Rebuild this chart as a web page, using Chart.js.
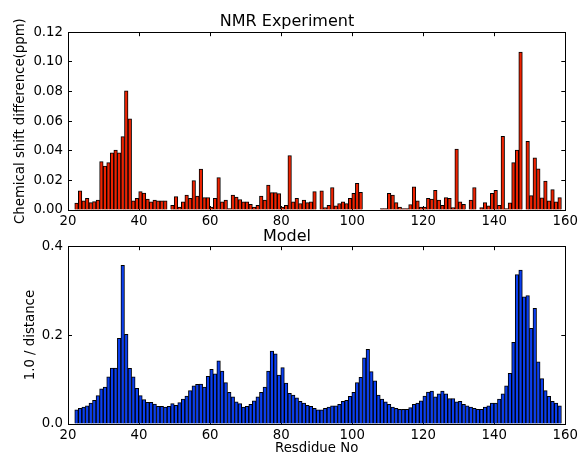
<!DOCTYPE html>
<html>
<head>
<meta charset="utf-8">
<script src="https://cdn.jsdelivr.net/npm/chart.js@4.4.1/dist/chart.umd.min.js"></script>
<style>
  html, body { margin: 0; padding: 0; background: #fff; }
  #wrap { position: relative; width: 586px; height: 457px; }
  .box { position: absolute; left: 0; width: 586px; }
  #boxTop { top: 0; height: 232px; }
  #boxBottom { top: 223px; height: 234px; }
</style>
</head>
<body>
<div id="wrap">
  <div class="box" id="boxTop"><canvas id="nmrChart"></canvas></div>
  <div class="box" id="boxBottom"><canvas id="modelChart"></canvas></div>
</div>
<script>
// residue numbers 22..158 (one bar each)
const residues = [];
for (let r = 22; r <= 158; r++) residues.push(r);

// top: NMR chemical shift difference (ppm), residues 22..158
const nmrShift = [
  0.0046, 0.0129, 0.0062, 0.0078, 0.0050, 0.0057, 0.0067, 0.0326, 0.0297, 0.0320,
  0.0386, 0.0405, 0.0386, 0.0495, 0.0805, 0.0615, 0.0062, 0.0078, 0.0124, 0.0115,
  0.0074, 0.0055, 0.0067, 0.0062, 0.0062, 0.0062, 0, 0.0032, 0.0090, 0.0020,
  0.0055, 0.0100, 0.0078, 0.0198, 0.0094, 0.0276, 0.0083, 0.0083, 0.0020, 0.0078,
  0.0218, 0.0055, 0.0067, 0.0010, 0.0100, 0.0087, 0.0071, 0.0055, 0.0055, 0.0039,
  0.0020, 0.0032, 0.0094, 0.0067, 0.0168, 0.0117, 0.0117, 0.0110, 0.0020, 0.0032,
  0.0368, 0.0055, 0.0078, 0.0044, 0.0067, 0.0050, 0.0055, 0.0124, 0, 0.0129,
  0.0016, 0.0032, 0.0152, 0.0028, 0.0044, 0.0055, 0.0044, 0.0078, 0.0113, 0.0180,
  0.0120, 0, 0, 0, 0, 0, 0.0010, 0.0010, 0.0113, 0.0100,
  0.0050, 0.0020, 0.0010, 0.0010, 0.0037, 0.0156, 0.0062, 0.0020, 0.0020, 0.0078,
  0.0074, 0.0133, 0.0067, 0.0032, 0.0083, 0.0078, 0.0016, 0.0412, 0.0055, 0.0039,
  0, 0.0067, 0.0152, 0, 0.0016, 0.0050, 0.0028, 0.0113, 0.0133, 0.0032,
  0.0497, 0.0010, 0.0048, 0.0320, 0.0405, 0.1065, 0, 0.0464, 0.0097, 0.0352,
  0.0278, 0.0082, 0.0195, 0.0062, 0.0138, 0.0055, 0.0083
];

// bottom: model 1.0 / distance, residues 22..158
const modelInvDist = [
  0.032, 0.035, 0.038, 0.041, 0.047, 0.053, 0.064, 0.079, 0.083, 0.106,
  0.126, 0.126, 0.193, 0.357, 0.202, 0.125, 0.106, 0.080, 0.064, 0.055,
  0.049, 0.049, 0.045, 0.040, 0.040, 0.038, 0.040, 0.046, 0.042, 0.048,
  0.056, 0.063, 0.075, 0.086, 0.089, 0.090, 0.083, 0.107, 0.123, 0.113,
  0.142, 0.119, 0.093, 0.071, 0.061, 0.050, 0.046, 0.038, 0.040, 0.044,
  0.052, 0.061, 0.071, 0.083, 0.119, 0.164, 0.158, 0.110, 0.127, 0.092,
  0.069, 0.065, 0.059, 0.051, 0.047, 0.042, 0.040, 0.035, 0.032, 0.032,
  0.035, 0.038, 0.041, 0.041, 0.044, 0.051, 0.053, 0.062, 0.071, 0.093,
  0.105, 0.149, 0.168, 0.118, 0.097, 0.065, 0.056, 0.050, 0.044, 0.038,
  0.035, 0.033, 0.033, 0.033, 0.037, 0.044, 0.047, 0.052, 0.063, 0.072,
  0.074, 0.061, 0.068, 0.074, 0.068, 0.057, 0.057, 0.050, 0.051, 0.044,
  0.041, 0.038, 0.035, 0.033, 0.033, 0.038, 0.041, 0.047, 0.047, 0.056,
  0.068, 0.086, 0.114, 0.184, 0.336, 0.346, 0.286, 0.289, 0.215, 0.260,
  0.140, 0.102, 0.075, 0.062, 0.051, 0.047, 0.041
];

const xTicks = [20, 40, 60, 80, 100, 120, 140, 160];
const nmrTicks = [0, 0.02, 0.04, 0.06, 0.08, 0.10, 0.12];
const modelTicks = [0, 0.2, 0.4];

Chart.defaults.font.family = "'DejaVu Sans', sans-serif";
Chart.defaults.font.size = 13.3;
Chart.defaults.color = "#000";

// matplotlib puts the bar's left edge on the residue (width 0.8)
function toPoints(values) {
  return residues.map((r, i) => ({ x: r + 0.4, y: values[i] }));
}

function useTicks(list) {
  return function (scale) {
    scale.ticks = list.map((v) => ({ value: v }));
  };
}

// inward tick marks, black frame
const tickGrid = { drawOnChartArea: false, drawTicks: true, tickLength: -4, color: "#000", lineWidth: 1 };
const frame = { display: true, color: "#000", width: 1 };

function makeBarChart(canvasId, o) {
  return new Chart(document.getElementById(canvasId), {
    type: "bar",
    data: {
      datasets: [
        {
          data: toPoints(o.values),
          backgroundColor: o.color,
          borderColor: "#000",
          borderWidth: 1,
          barPercentage: 1.0,
          categoryPercentage: 1.0,
        },
      ],
    },
    options: {
      responsive: true,
      maintainAspectRatio: false,
      animation: false,
      layout: { padding: { left: 0, right: 12, top: 0, bottom: 0 } },
      plugins: {
        legend: { display: false },
        tooltip: { enabled: false },
        title: {
          display: true,
          text: o.title,
          font: { size: 16, weight: "normal" },
          color: "#000",
          padding: o.titlePad,
        },
      },
      scales: {
        x: {
          type: "linear",
          position: "bottom",
          min: 20,
          max: 160,
          offset: false,
          grid: Object.assign({ offset: false }, tickGrid),
          border: frame,
          afterBuildTicks: useTicks(xTicks),
          afterFit: (s) => { s.height = o.xHeight; },
          ticks: { padding: 8, maxRotation: 0, callback: (v) => String(v) },
          title: o.xTitle
            ? { display: true, text: o.xTitle, font: { size: 13.3 }, padding: { top: 0, bottom: 0 } }
            : { display: false },
        },
        x2: {
          type: "linear",
          position: "top",
          min: 20,
          max: 160,
          offset: false,
          grid: Object.assign({ offset: false }, tickGrid),
          border: frame,
          afterBuildTicks: useTicks(xTicks),
          afterFit: (s) => { s.height = 0; },
          ticks: { display: false },
        },
        y: {
          type: "linear",
          position: "left",
          min: 0,
          max: o.yMax,
          grid: tickGrid,
          border: frame,
          afterBuildTicks: useTicks(o.yTicks),
          afterFit: (s) => { s.width = 68; },
          ticks: { padding: 9, callback: (v) => v.toFixed(o.decimals) },
          title: { display: true, text: o.yTitle, font: { size: 13.3 }, padding: { top: o.yTitlePad, bottom: 0 } },
        },
        y2: {
          type: "linear",
          position: "right",
          min: 0,
          max: o.yMax,
          grid: tickGrid,
          border: frame,
          afterBuildTicks: useTicks(o.yTicks),
          afterFit: (s) => { s.width = 0; },
          ticks: { display: false },
        },
      },
    },
  });
}

// [NMR Experiment]
makeBarChart("nmrChart", {
  title: "NMR Experiment",
  titlePad: { top: 12, bottom: 1 },
  values: nmrShift,
  color: "#ee2200",
  yMax: 0.12,
  yTicks: nmrTicks,
  decimals: 2,
  yTitle: "Chemical shift difference(ppm)",
  yTitlePad: 13,
  xHeight: 22,
});

// [Model]
makeBarChart("modelChart", {
  title: "Model",
  titlePad: { top: 4, bottom: 0 },
  values: modelInvDist,
  color: "#0a3ef0",
  yMax: 0.4,
  yTicks: modelTicks,
  decimals: 1,
  yTitle: "1.0 / distance",
  yTitlePad: 23,
  xHeight: 33,
  xTitle: "Resdidue No",
});
</script>
</body>
</html>
